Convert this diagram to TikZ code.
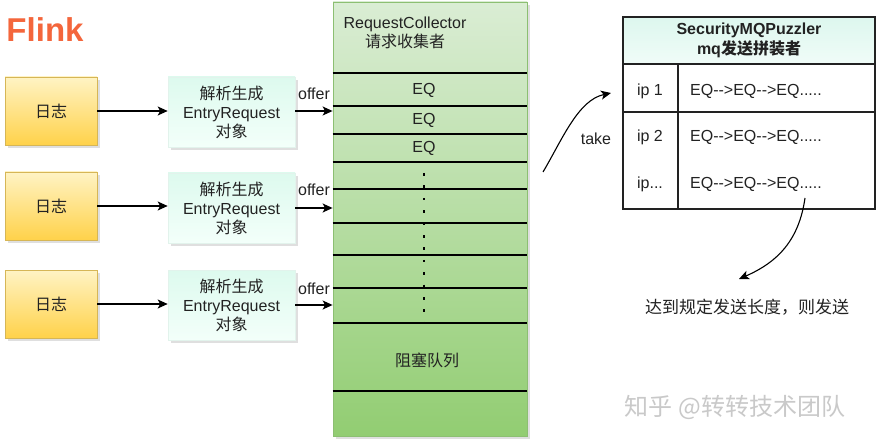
\documentclass[tikz,border=0pt]{standalone}
\usepackage{fontspec}
\setmainfont{Liberation Sans}
\newfontfamily\cjk{Noto Sans CJK SC}
\usetikzlibrary{arrows.meta,shadows}
\definecolor{flink}{HTML}{F4663C}
\definecolor{logtop}{HTML}{FFF3C4}
\definecolor{logbot}{HTML}{FFD24A}
\definecolor{logborder}{HTML}{D6B656}
\definecolor{minttop}{HTML}{DDFAEE}
\definecolor{mintbot}{HTML}{F3FFFA}
\definecolor{mintborder}{HTML}{E2F3EC}
\definecolor{coltop}{HTML}{DAEDD4}
\definecolor{colbot}{HTML}{92CD72}
\definecolor{colborder}{HTML}{8CBF72}
\definecolor{hdrtop}{HTML}{DDF7EE}
\definecolor{hdrbot}{HTML}{F0FCF8}
\definecolor{ink}{HTML}{222222}
\definecolor{wm}{HTML}{C9C9C9}
\begin{document}
\begin{tikzpicture}[x=1pt,y=-1pt,
  every node/.style={text=ink},
  txt/.style={font=\fontsize{16}{19}\selectfont, align=center, inner sep=0pt},
  shadowed/.style={drop shadow={shadow xshift=3pt,shadow yshift=-3pt,opacity=0.25,fill=gray}},
  logbox/.style={draw=logborder, line width=0.8pt, top color=logtop, bottom color=logbot,
    minimum width=92pt, minimum height=68pt, shadowed, txt},
  parsebox/.style={draw=mintborder, line width=0.6pt, top color=minttop, bottom color=mintbot,
    minimum width=127pt, minimum height=70pt, shadowed, txt},
  arr/.style={-{Stealth[length=10pt,width=9pt,inset=2.5pt]}, line width=1.3pt, draw=black},
  qline/.style={line width=2pt, draw=black},
  cell/.style={draw=ink, line width=1.3pt, inner sep=0pt},
]
\useasboundingbox[fill=white] (0,0) rectangle (876,441);

% Flink title
\node[font=\bfseries\fontsize{33}{36}\selectfont, text=flink, inner sep=0pt] (flink) at (45,30) {Flink};

% log boxes and parse boxes
\node[logbox] (l1) at (51,111) {{\cjk 日志}};
\node[logbox] (l2) at (51,206) {{\cjk 日志}};
\node[logbox] (l3) at (51,304) {{\cjk 日志}};

\node[parsebox] (p1) at (231.5,112) {{\cjk 解析生成}\\EntryRequest\\{\cjk 对象}};
\node[parsebox] (p2) at (231.5,208) {{\cjk 解析生成}\\EntryRequest\\{\cjk 对象}};
\node[parsebox] (p3) at (231.5,305) {{\cjk 解析生成}\\EntryRequest\\{\cjk 对象}};

% collector column
\node[draw=colborder, line width=0.8pt, top color=coltop, bottom color=colbot,
  minimum width=194pt, minimum height=434pt, inner sep=0pt, shadowed] (col) at (430,219) {};
\node[txt] (coltitle) at (405,33) {RequestCollector\\{\cjk 请求收集者}};

\foreach \yy in {73,106,134,162,189,223,255,288,323,391}{
  \draw[qline] (col.west |- 0,\yy) -- (col.east |- 0,\yy);
}
\node[txt] (eq1) at (424,90) {EQ};
\node[txt] (eq2) at (424,120) {EQ};
\node[txt] (eq3) at (424,148) {EQ};
\draw[line width=2.6pt, dash pattern=on 2.6pt off 9.8pt] (424,173) -- (424,326);
\node[txt,font=\cjk\fontsize{16}{19}\selectfont] (bq) at (427,360) {阻塞队列};

% arrows
\draw[arr] (l1) -- (p1.west |- l1);
\draw[arr] (l2) -- (p2.west |- l2);
\draw[arr] (l3) -- (p3.west |- l3);
\draw[arr] (p1.east |- 0,111) -- (col.west |- 0,111);
\draw[arr] (p2.east |- 0,208) -- (col.west |- 0,208);
\draw[arr] (p3.east |- 0,305) -- (col.west |- 0,305);
\node[txt] (o1) at (314,94) {offer};
\node[txt] (o2) at (314,190) {offer};
\node[txt] (o3) at (314,289) {offer};

% table
\node[cell, fill=hdrtop, top color=hdrtop, bottom color=hdrbot, minimum width=252pt, minimum height=47pt,
  font=\bfseries\fontsize{16}{20}\selectfont, align=center] (hdr) at (749,40.5)
  {SecurityMQPuzzler\\mq{\cjk\bfseries 发送拼装者}};
\node[cell, fill=white, minimum width=55pt, minimum height=48pt] (c1) at (650.5,88) {};
\node[cell, fill=white, minimum width=197pt, minimum height=48pt] (e1) at (776.5,88) {};
\node[cell, fill=white, minimum width=55pt, minimum height=97pt] (c2) at (650.5,160.5) {};
\node[cell, fill=white, minimum width=197pt, minimum height=97pt] (e2) at (776.5,160.5) {};
\draw[line width=1.3pt, draw=ink] (c2.north west) -- ([xshift=2pt]e2.north east);

\node[txt] (ip1) at (650,91) {ip 1};
\node[txt] (ip2) at (650,137) {ip 2};
\node[txt] (ip3) at (650,184) {ip...};
\node[txt, anchor=west] (q1) at (690,91) {EQ-{}->EQ-{}->EQ.....};
\node[txt, anchor=west] (q2) at (690,137) {EQ-{}->EQ-{}->EQ.....};
\node[txt, anchor=west] (q3) at (690,184) {EQ-{}->EQ-{}->EQ.....};

% take arrow
\coordinate (tk0) at (543,172);
\coordinate (tk1) at (611,93);
\draw[arr, line width=1.1pt] (tk0) .. controls (562,140) and (578,100) .. (tk1);
\node[txt] (take) at (596,139) {take};

% send arrow
\coordinate (sd0) at (805,198);
\coordinate (sd1) at (739,279);
\draw[arr, line width=1.1pt] (sd0) .. controls (799,240) and (778,262) .. (sd1);
\node[txt, font=\cjk\fontsize{17}{20}\selectfont] (send) at (747,307) {达到规定发送长度，则发送};

% watermark
\node[inner sep=0pt, text=wm, font=\cjk\fontsize{24}{26}\selectfont] (wmk) at (735,407) {知乎 @转转技术团队};
\end{tikzpicture}
\end{document}
